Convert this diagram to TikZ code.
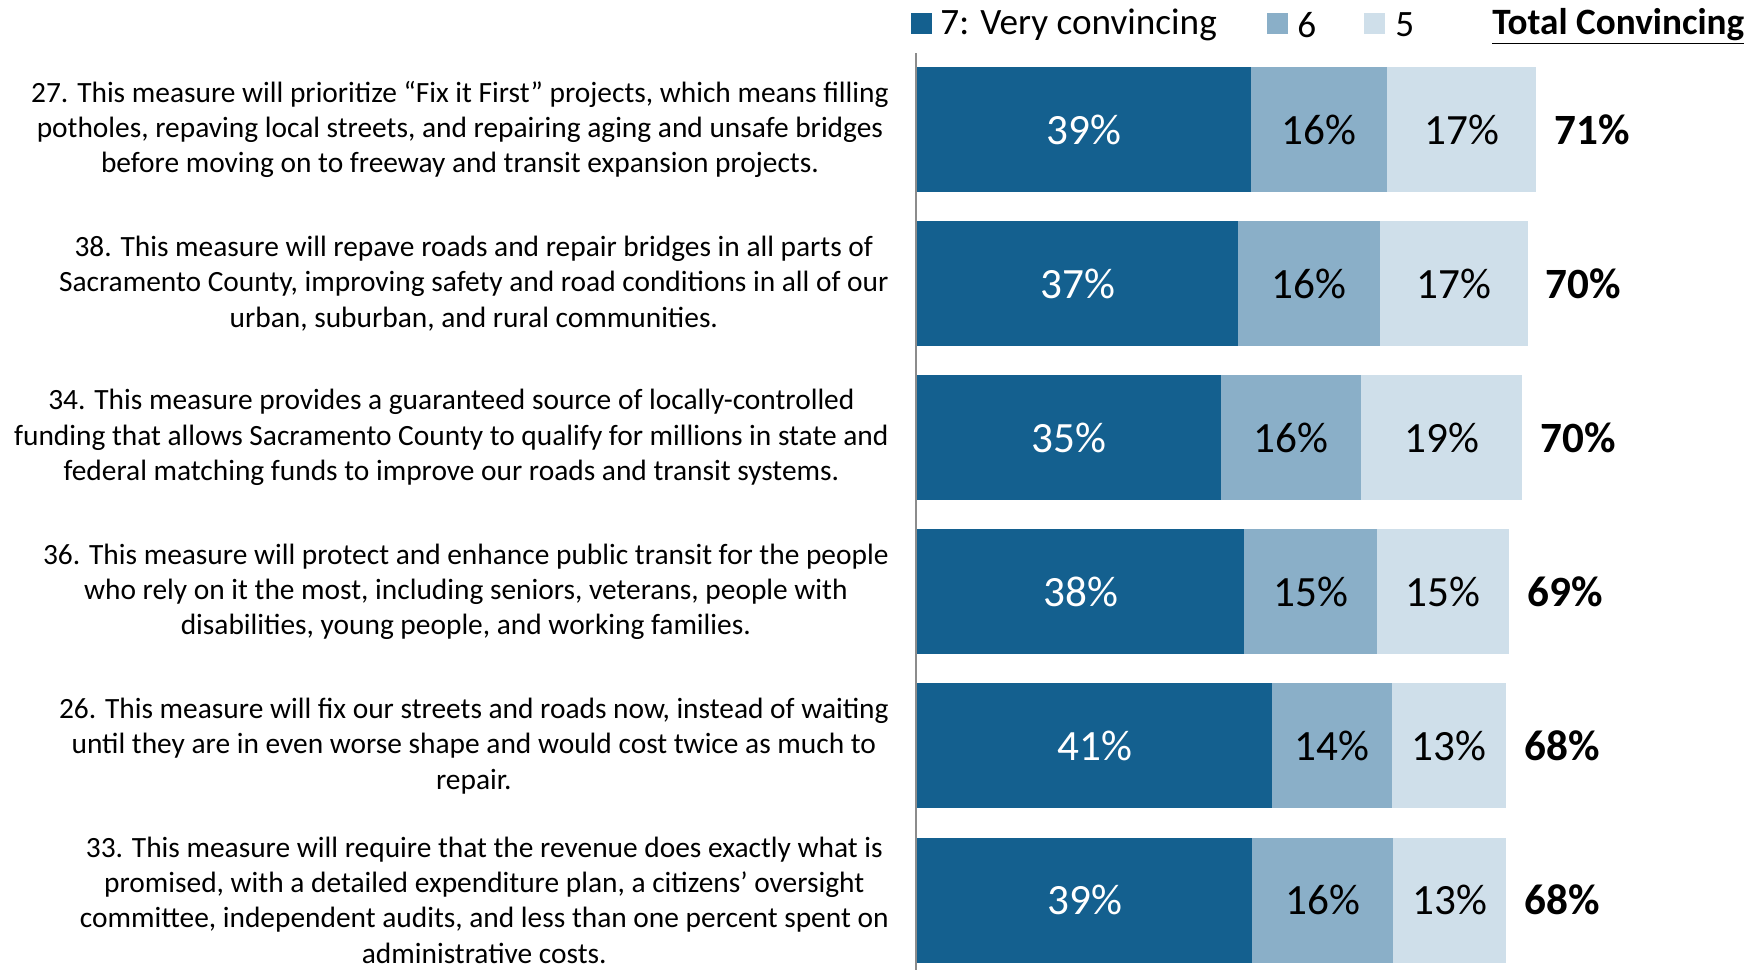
\documentclass[tikz,border=0pt]{standalone}
\usepackage{fontspec}
\setmainfont{Carlito}
\usetikzlibrary{positioning}

\definecolor{convseven}{RGB}{20,96,143}
\definecolor{convsix}{RGB}{138,175,200}
\definecolor{convfive}{RGB}{207,223,234}
\definecolor{axisgray}{RGB}{140,140,140}

\begin{document}
\begin{tikzpicture}[x=0.5pt, y=-0.5pt,
    seg/.style={rectangle, inner sep=0pt, outer sep=0pt, minimum height=62.5pt, font=\fontsize{21.6}{24}\selectfont},
    question/.style={align=center, inner sep=0pt, font=\fontsize{14.7}{17.7}\selectfont},
    total/.style={inner sep=0pt, font=\bfseries\fontsize{21.6}{24}\selectfont},
    key/.style={rectangle, inner sep=0pt, outer sep=0pt, minimum size=10.5pt},
    keytext/.style={inner sep=0pt, yshift=-1pt, font=\fontsize{18.6}{20}\selectfont}]
  \useasboundingbox (0,0) rectangle (1764,970);

  % axis
  \draw[axisgray, line width=1pt] (916,53) -- (916,970);

  % bars: widths of 7/6/5, labels, total
  \foreach \sa/\sb/\sc/\la/\lb/\lc/\tot [count=\i] in {
      38.6/15.7/17.2/39/16/17/71,
      37.1/16.4/17.0/37/16/17/70,
      35.1/16.2/18.6/35/16/19/70,
      37.8/15.3/15.3/38/15/15/69,
      41.0/13.9/13.1/41/14/13/68,
      38.7/16.3/13.0/39/16/13/68}
  {
    \node[seg, fill=convseven, text=white, minimum width=\sa*4.33pt, anchor=west] (seven\i) at (917, {129.5+154.1*(\i-1)}) {\la\%};
    \node[seg, fill=convsix, minimum width=\sb*4.33pt, right=0pt of seven\i] (six\i) {\lb\%};
    \node[seg, fill=convfive, minimum width=\sc*4.33pt, right=0pt of six\i] (five\i) {\lc\%};
    \node[total, right=9pt of five\i] (total\i) {\tot\%};
  }

  % statements
  \node[question, left=14pt of seven1] (q27) {27. This measure will prioritize “Fix it First” projects, which means filling\\potholes, repaving local streets, and repairing aging and unsafe bridges\\before moving on to freeway and transit expansion projects.};
  \node[question, left=14pt of seven2] (q38) {38. This measure will repave roads and repair bridges in all parts of\\Sacramento County, improving safety and road conditions in all of our\\urban, suburban, and rural communities.};
  \node[question, left=14pt of seven3] (q34) {34. This measure provides a guaranteed source of locally-controlled\\funding that allows Sacramento County to qualify for millions in state and\\federal matching funds to improve our roads and transit systems.};
  \node[question, left=14pt of seven4] (q36) {36. This measure will protect and enhance public transit for the people\\who rely on it the most, including seniors, veterans, people with\\disabilities, young people, and working families.};
  \node[question, left=14pt of seven5] (q26) {26. This measure will fix our streets and roads now, instead of waiting\\until they are in even worse shape and would cost twice as much to\\repair.};
  \node[question, left=14pt of seven6] (q33) {33. This measure will require that the revenue does exactly what is\\promised, with a detailed expenditure plan, a citizens’ oversight\\committee, independent audits, and less than one percent spent on\\administrative costs.};

  % legend
  \node[key, fill=convseven] (keyseven) at (921.5,23) {};
  \node[keytext, right=4pt of keyseven] (keyseventext) {7: Very convincing};
  \node[key, fill=convsix] (keysix) at (1277.5,23) {};
  \node[keytext, right=4.5pt of keysix] (keysixtext) {6};
  \node[key, fill=convfive] (keyfive) at (1374.5,23) {};
  \node[keytext, right=5pt of keyfive] (keyfivetext) {5};
  \node[keytext, yshift=0pt, font=\bfseries\fontsize{18.6}{20}\selectfont, anchor=base west] (keytotal) at (1492,32) {\underline{Total Convincing}};
\end{tikzpicture}
\end{document}
